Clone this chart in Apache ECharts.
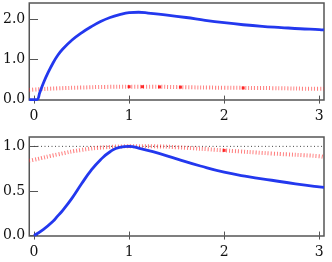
<!DOCTYPE html>
<html>
<head>
<meta charset="utf-8">
<script src="https://cdn.jsdelivr.net/npm/echarts@6/dist/echarts.min.js"></script>
<style>html,body{margin:0;padding:0;background:#fff}#c{width:332px;height:262px}</style>
</head>
<body>
<div id="c"></div>
<script>
// ---- data ----
var xTicks = [0, 1, 2, 3];
var yTicksTop = [0, 1, 2];
var yTicksBottom = [0, 0.5, 1];

var topBlueX = [-0.05, 0.03, 0.06, 0.1, 0.15, 0.2, 0.25, 0.3, 0.4, 0.5, 0.6, 0.7, 0.8, 0.9, 1.0, 1.1, 1.2, 1.4, 1.6, 1.8, 2.0, 2.2, 2.4, 2.6, 2.8, 3.0, 3.05];
var topBlueY = [0, 0, 0.17, 0.42, 0.68, 0.91, 1.1, 1.25, 1.48, 1.66, 1.81, 1.94, 2.04, 2.11, 2.16, 2.17, 2.15, 2.1, 2.04, 1.97, 1.91, 1.86, 1.82, 1.79, 1.76, 1.74, 1.73];

var topRedX = [-0.05, 0, 0.25, 0.5, 0.75, 1.0, 1.25, 1.5, 2.0, 2.5, 3.0, 3.05];
var topRedY = [0.24, 0.25, 0.28, 0.30, 0.315, 0.32, 0.32, 0.31, 0.295, 0.285, 0.27, 0.27];
var topMarkX = [1.0, 1.14, 1.32, 1.54, 2.2];
var topMarkY = [0.32, 0.32, 0.315, 0.31, 0.29];

var botBlueX = [0, 0.1, 0.2, 0.25, 0.3, 0.4, 0.5, 0.6, 0.7, 0.8, 0.9, 1.0, 1.1, 1.25, 1.5, 1.75, 2.0, 2.25, 2.5, 2.75, 3.0, 3.05];
var botBlueY = [0, 0.07, 0.16, 0.22, 0.28, 0.42, 0.58, 0.73, 0.85, 0.94, 0.99, 1.0, 0.98, 0.94, 0.86, 0.78, 0.71, 0.66, 0.62, 0.58, 0.545, 0.54];

var botRedX = [-0.05, 0, 0.25, 0.5, 0.75, 1.0, 1.25, 1.5, 2.0, 2.5, 3.0, 3.05];
var botRedY = [0.84, 0.85, 0.91, 0.96, 0.99, 1.0, 1.0, 0.99, 0.955, 0.92, 0.89, 0.88];
var botMarkX = [1.0, 2.0];
var botMarkY = [1.0, 0.955];

var refLineX = [0, 3.05];
var refLineY = [1, 1];

function zip(xs, ys) { return xs.map(function (x, i) { return [x, ys[i]]; }); }

var FONT = 'DejaVu Serif';
var FRAME = '#555';
var BLUE = '#2338ee';
var RED = 'rgba(255,40,40,0.6)';

function xAx(grid, bottom) {
  return {
    type: 'value', gridIndex: grid, min: -0.05, max: 3.05,
    position: bottom ? 'bottom' : 'top',
    axisLine: { show: false },
    splitLine: { show: false },
    axisTick: { show: true, inside: true, length: 4, customValues: xTicks, lineStyle: { color: FRAME, width: 1 } },
    axisLabel: bottom ? { show: true, customValues: xTicks, fontFamily: FONT, fontSize: 14, color: '#111', margin: 9 } : { show: false }
  };
}
function yAx(grid, left, mn, mx, ticks) {
  return {
    type: 'value', gridIndex: grid, min: mn, max: mx,
    position: left ? 'left' : 'right',
    axisLine: { show: false },
    splitLine: { show: false },
    axisTick: { show: true, inside: true, length: 4, customValues: ticks, lineStyle: { color: FRAME, width: 1 } },
    axisLabel: left ? { show: true, customValues: ticks, fontFamily: FONT, fontSize: 14, color: '#111', margin: 4,
      formatter: function (v) { return v.toFixed(1); } } : { show: false }
  };
}

var chart = echarts.init(document.getElementById('c'), null, { renderer: 'canvas' });
chart.setOption({
  animation: false,
  textStyle: { fontFamily: FONT },
  grid: [
    { left: 27, right: 8, top: 3, height: 97, show: true, borderColor: FRAME, borderWidth: 1.5, backgroundColor: 'transparent' },
    { left: 27, right: 8, top: 137, height: 99, show: true, borderColor: FRAME, borderWidth: 1.5, backgroundColor: 'transparent' }
  ],
  xAxis: [xAx(0, true), xAx(0, false), xAx(1, true), xAx(1, false)],
  yAxis: [yAx(0, true, -0.01, 2.4, yTicksTop), yAx(0, false, -0.01, 2.4, yTicksTop),
          yAx(1, true, -0.005, 1.105, yTicksBottom), yAx(1, false, -0.005, 1.105, yTicksBottom)],
  series: [
    { type: 'line', xAxisIndex: 0, yAxisIndex: 0, data: zip(topRedX, topRedY), smooth: true, symbol: 'none',
      lineStyle: { color: RED, width: 4, type: [1, 2] }, z: 2 },
    { type: 'scatter', xAxisIndex: 0, yAxisIndex: 0, data: zip(topMarkX, topMarkY), symbol: 'rect', symbolSize: 3,
      itemStyle: { color: '#f00' }, z: 3 },
    { type: 'line', xAxisIndex: 0, yAxisIndex: 0, data: zip(topBlueX, topBlueY), smooth: 0.4, symbol: 'none',
      lineStyle: { color: BLUE, width: 2.8 }, z: 4 },
    { type: 'line', xAxisIndex: 2, yAxisIndex: 2, data: zip(refLineX, refLineY), symbol: 'none',
      lineStyle: { color: '#444', width: 1, type: [1, 2.5] }, z: 1 },
    { type: 'line', xAxisIndex: 2, yAxisIndex: 2, data: zip(botRedX, botRedY), smooth: true, symbol: 'none',
      lineStyle: { color: RED, width: 4, type: [1, 2] }, z: 2 },
    { type: 'scatter', xAxisIndex: 2, yAxisIndex: 2, data: zip(botMarkX, botMarkY), symbol: 'rect', symbolSize: 3,
      itemStyle: { color: '#f00' }, z: 3 },
    { type: 'line', xAxisIndex: 2, yAxisIndex: 2, data: zip(botBlueX, botBlueY), smooth: true, symbol: 'none',
      lineStyle: { color: BLUE, width: 2.8 }, z: 4 }
  ]
});
</script>
</body>
</html>
